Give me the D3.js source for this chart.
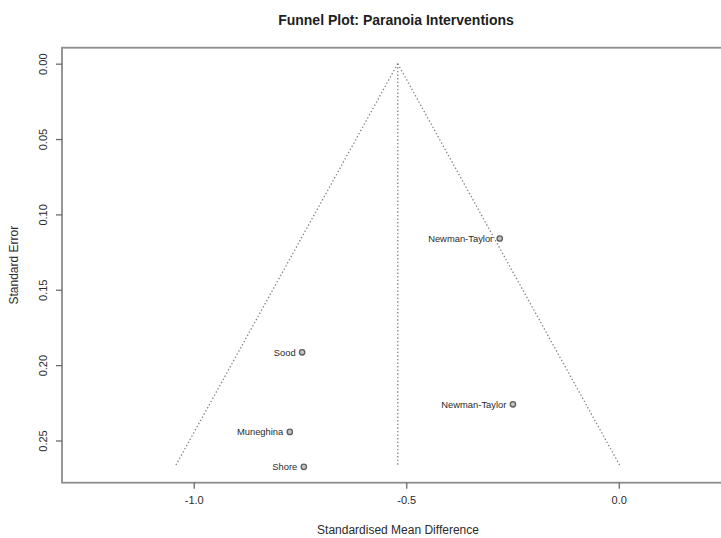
<!DOCTYPE html>
<html>
<head>
<meta charset="utf-8">
<script src="https://cdn.jsdelivr.net/npm/d3@7"></script>
<style>
  html, body { margin: 0; padding: 0; background: #fff; }
  svg { display: block; font-family: "Liberation Sans", Arial, Helvetica, sans-serif; }
</style>
</head>
<body>
<svg id="chart" width="721" height="538"></svg>
<script>
// Study labels, effect sizes (SMD) and standard errors
const studies = ["Newman-Taylor", "Sood", "Newman-Taylor", "Muneghina", "Shore"];
const smd = [-0.28, -0.745, -0.249, -0.774, -0.741];
const se = [0.116, 0.1915, 0.226, 0.2443, 0.2675];

// Pooled estimate used for the funnel centre
const summaryEffect = -0.52;

// Axis ticks
const xTicks = [-1.0, -0.5, 0.0];
const yTicks = [0.00, 0.05, 0.10, 0.15, 0.20, 0.25];

const svg = d3.select("#chart");

const plot = { left: 62, right: 742, top: 47.7, bottom: 482.7 };

const x = d3.scaleLinear().domain([-1.31, 0.29]).range([plot.left, plot.right]);
const y = d3.scaleLinear().domain([-0.0106, 0.278]).range([plot.top, plot.bottom]);

const textColor = "#2b2b2b";
const lineColor = "#858585";

// Plain hyphen-minus formatting, as in base R graphics
const fmt1 = d => d3.format(".1f")(d).replace("\u2212", "-");
const fmt2 = d => d3.format(".2f")(d).replace("\u2212", "-");

// Title
svg.append("text")
  .attr("x", 396).attr("y", 24.5)
  .attr("text-anchor", "middle")
  .attr("font-size", 14).attr("font-weight", "bold")
  .attr("fill", "#1e1e1e")
  .text("Funnel Plot: Paranoia Interventions");

// Funnel: 95% pseudo-confidence limits and the centre line
const maxSE = d3.max(se);
const lineGen = d3.line().x(d => x(d[0])).y(d => y(d[1]));
const funnel = [
  [[summaryEffect, 0], [summaryEffect - 1.96 * maxSE, maxSE]],
  [[summaryEffect, 0], [summaryEffect + 1.96 * maxSE, maxSE]],
  [[summaryEffect, 0], [summaryEffect, maxSE]]
];
svg.append("g").selectAll("path").data(funnel).join("path")
  .attr("d", lineGen)
  .attr("fill", "none")
  .attr("stroke", lineColor)
  .attr("stroke-width", 1.3)
  .attr("stroke-dasharray", "1.4,2.2");

// Study points
const pts = studies.map((s, i) => ({ name: s, smd: smd[i], se: se[i] }));
const g = svg.append("g");
g.selectAll("circle").data(pts).join("circle")
  .attr("cx", d => x(d.smd))
  .attr("cy", d => y(d.se))
  .attr("r", 2.7)
  .attr("fill", "#c2c2c2")
  .attr("stroke", "#5e5e5e")
  .attr("stroke-width", 1.3);

g.selectAll("text").data(pts).join("text")
  .attr("x", d => x(d.smd) - 6.5)
  .attr("y", d => y(d.se))
  .attr("dy", "0.35em")
  .attr("text-anchor", "end")
  .attr("font-size", 9.4)
  .attr("fill", textColor)
  .text(d => d.name);

// Plot box
svg.append("rect")
  .attr("x", plot.left).attr("y", plot.top)
  .attr("width", plot.right - plot.left)
  .attr("height", plot.bottom - plot.top)
  .attr("fill", "none")
  .attr("stroke", "#8c8c8c")
  .attr("stroke-width", 1.8);

// X axis
const xAxis = svg.append("g")
  .attr("transform", `translate(0,${plot.bottom})`)
  .call(d3.axisBottom(x).tickValues(xTicks).tickFormat(fmt1).tickSize(6).tickPadding(8));
xAxis.select(".domain").remove();
xAxis.selectAll("line").attr("stroke", "#6a6a6a").attr("stroke-width", 1.3);
xAxis.selectAll("text")
  .attr("font-size", 11)
  .attr("font-family", "Liberation Sans, Arial, sans-serif")
  .attr("fill", textColor);

// Y axis (labels rotated, reading upwards)
const yAxis = svg.append("g")
  .attr("transform", `translate(${plot.left},0)`)
  .call(d3.axisLeft(y).tickValues(yTicks).tickFormat(fmt2).tickSize(6));
yAxis.select(".domain").remove();
yAxis.selectAll("line").attr("stroke", "#6a6a6a").attr("stroke-width", 1.3);
yAxis.selectAll("text")
  .attr("x", null).attr("dy", null)
  .attr("transform", "translate(-19,0) rotate(-90)")
  .attr("text-anchor", "middle")
  .attr("dominant-baseline", "central")
  .attr("font-size", 11)
  .attr("font-family", "Liberation Sans, Arial, sans-serif")
  .attr("fill", textColor);

// Axis titles
svg.append("text")
  .attr("x", 398).attr("y", 534)
  .attr("text-anchor", "middle")
  .attr("font-size", 12)
  .attr("fill", textColor)
  .text("Standardised Mean Difference");

svg.append("text")
  .attr("transform", `translate(14,${(plot.top + plot.bottom) / 2}) rotate(-90)`)
  .attr("text-anchor", "middle")
  .attr("dominant-baseline", "central")
  .attr("font-size", 12)
  .attr("fill", textColor)
  .text("Standard Error");
</script>
</body>
</html>
